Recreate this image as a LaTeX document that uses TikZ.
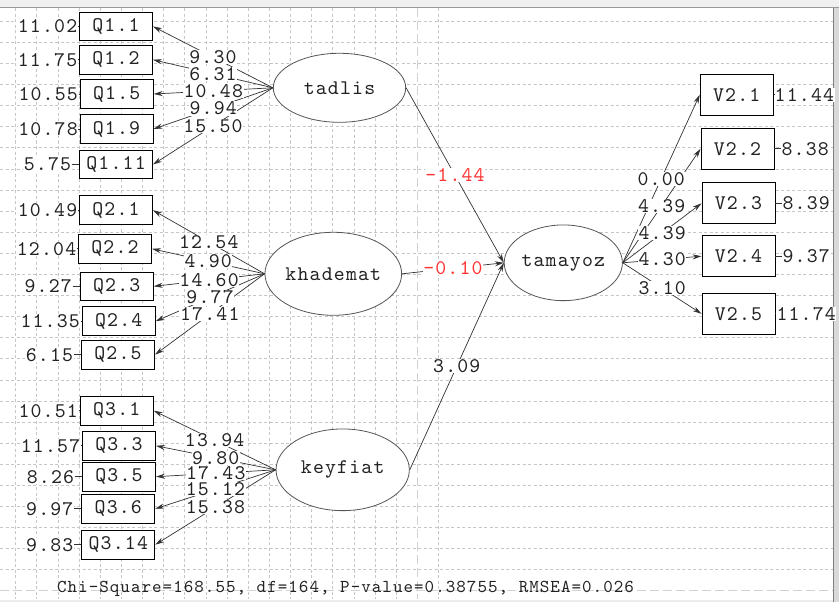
\documentclass[tikz,border=0pt]{standalone}
\usepackage{fontspec}
\newfontfamily\lisfont{lmmono10-regular.otf}[LetterSpace=5.7]
\usetikzlibrary{shapes.geometric,arrows.meta}
\definecolor{gridc}{HTML}{C6C6C6}
\definecolor{gridm}{HTML}{D2D2D2}
\definecolor{txtc}{HTML}{222222}
\definecolor{linec}{HTML}{333333}
\definecolor{ellc}{HTML}{555555}
\definecolor{redc}{HTML}{FF3333}
\definecolor{chrome}{HTML}{F0F0F0}
\tikzset{
  lisf/.style={font=\lisfont\fontsize{20.8}{22}\selectfont},
  gridline/.style={draw=gridc, line width=0.6pt, dash pattern=on 3pt off 2.5pt},
  gridmajor/.style={draw=gridm, line width=1.2pt, dash pattern=on 9pt off 4pt},
  qbox/.style={lisf, text=txtc, draw=black, fill=white, line width=0.9pt, rectangle, inner sep=0pt, minimum width=73pt, minimum height=28.7pt},
  vbox/.style={qbox, minimum height=40.8pt},
  latent/.style={lisf, text=txtc, draw=ellc, fill=white, line width=0.8pt, ellipse, inner sep=0pt},
  arr/.style={draw=linec, line width=0.7pt, -{Stealth[length=9pt,width=5pt]}},
  stub/.style={draw=linec, line width=0.7pt},
  lab/.style={lisf, text=txtc, fill=white, inner sep=0.6pt},
  redlab/.style={lab, text=redc},
  foot/.style={font=\lisfont\fontsize{18.15}{20}\selectfont, text=txtc}
}
\begin{document}
\begin{tikzpicture}[x=1pt,y=-1pt]
\useasboundingbox (0,0) rectangle (839,602);
% background and window chrome
\fill[white] (0,0) rectangle (839,602);
\fill[chrome] (0,0) rectangle (839,7);
\draw[color=gray!80, line width=1.3pt] (0,7.8) -- (839,7.8);
% grid
\foreach \k in {0,...,18,20,...,38} {
  \pgfmathsetmacro\xx{15.5+21.15*\k}
  \draw[gridline] (\xx,8.5) -- (\xx,599);
}
\draw[gridmajor] (417.35,8.5) -- (417.35,599);
\foreach \k in {1,...,27} {
  \pgfmathsetmacro\yy{21.1*\k}
  \draw[gridline] (0,\yy) -- (833,\yy);
}
\draw[gridmajor] (0,590.8) -- (833,590.8);
% right and bottom window edges
\fill[gray!30] (834,8.5) rectangle (839,602);
\draw[color=gray, line width=1.5pt] (833.5,8.5) -- (833.5,602);
\fill[gray!15] (0,599.5) rectangle (833,602);

% indicator boxes (left)
\node[qbox] (q11) at (116,26.4) {Q1.1};
\node[qbox] (q12) at (116,59.7) {Q1.2};
\node[qbox] (q15) at (116.7,94) {Q1.5};
\node[qbox] (q19) at (116.5,129) {Q1.9};
\node[qbox] (q111) at (116,164.5) {Q1.11};
\node[qbox] (q21) at (116,210.2) {Q2.1};
\node[qbox] (q22) at (115,248.8) {Q2.2};
\node[qbox] (q23) at (116.7,286.3) {Q2.3};
\node[qbox] (q24) at (118.7,321.2) {Q2.4};
\node[qbox] (q25) at (118,354.7) {Q2.5};
\node[qbox] (q31) at (116.7,410.7) {Q3.1};
\node[qbox] (q33) at (119,445.8) {Q3.3};
\node[qbox] (q35) at (119,476.7) {Q3.5};
\node[qbox] (q36) at (118.3,508.8) {Q3.6};
\node[qbox] (q314) at (118.3,544.7) {Q3.14};
% indicator boxes (right)
\node[vbox] (v21) at (736.7,94.7) {V2.1};
\node[vbox] (v22) at (737.5,148.8) {V2.2};
\node[vbox] (v23) at (738.5,203.3) {V2.3};
\node[vbox] (v24) at (738.5,256.2) {V2.4};
\node[vbox] (v25) at (738.5,313.8) {V2.5};
% latent variables
\node[latent, minimum width=132.4pt, minimum height=69pt] (tadlis) at (339.5,87.8) {tadlis};
\node[latent, minimum width=136.7pt, minimum height=83pt] (khademat) at (333.3,273.8) {khademat};
\node[latent, minimum width=133.3pt, minimum height=81.7pt] (keyfiat) at (342.7,469.8) {keyfiat};
\node[latent, minimum width=116.7pt, minimum height=75.7pt] (tamayoz) at (563.3,262.8) {tamayoz};

% loadings
\foreach \b in {q11,q12,q15,q19,q111} \draw[arr] (tadlis.west) -- (\b.east);
\foreach \b in {q21,q22,q23,q24,q25} \draw[arr] (khademat.west) -- (\b.east);
\foreach \b in {q31,q33,q35,q36,q314} \draw[arr] (keyfiat.west) -- (\b.east);
\foreach \b in {v21,v22,v23,v24,v25} \draw[arr] (tamayoz.east) -- (\b.west);
% structural paths
\draw[arr] (tadlis.east) -- (tamayoz.west);
\draw[arr] (khademat.east) -- (tamayoz.west);
\draw[arr] (keyfiat.east) -- (tamayoz.west);

% path labels
\path (tadlis.west) -- (q11.east) node[lab, midway] {9.30};
\path (tadlis.west) -- (q12.east) node[lab, midway] {6.31};
\path (tadlis.west) -- (q15.east) node[lab, midway] {10.48};
\path (tadlis.west) -- (q19.east) node[lab, midway] {9.94};
\path (tadlis.west) -- (q111.east) node[lab, midway] {15.50};
\path (khademat.west) -- (q21.east) node[lab, midway] {12.54};
\path (khademat.west) -- (q22.east) node[lab, midway] {4.90};
\path (khademat.west) -- (q23.east) node[lab, midway] {14.60};
\path (khademat.west) -- (q24.east) node[lab, midway] {9.77};
\path (khademat.west) -- (q25.east) node[lab, midway] {17.41};
\path (keyfiat.west) -- (q31.east) node[lab, midway] {13.94};
\path (keyfiat.west) -- (q33.east) node[lab, midway] {9.80};
\path (keyfiat.west) -- (q35.east) node[lab, midway] {17.43};
\path (keyfiat.west) -- (q36.east) node[lab, midway] {15.12};
\path (keyfiat.west) -- (q314.east) node[lab, midway] {15.38};
\path (tamayoz.east) -- (v21.west) node[lab, midway] {0.00};
\path (tamayoz.east) -- (v22.west) node[lab, midway] {4.39};
\path (tamayoz.east) -- (v23.west) node[lab, midway] {4.39};
\path (tamayoz.east) -- (v24.west) node[lab, midway] {4.30};
\path (tamayoz.east) -- (v25.west) node[lab, midway] {3.10};
\path (tadlis.east) -- (tamayoz.west) node[redlab, midway] {-1.44};
\path (khademat.east) -- (tamayoz.west) node[redlab, midway] {-0.10};
\path (keyfiat.east) -- (tamayoz.west) node[lab, midway] {3.09};

% error variances
\node[lab] (e11) at (47.5,26.4) {11.02};
\node[lab] (e12) at (47.5,59.7) {11.75};
\node[lab] (e15) at (48.2,94) {10.55};
\node[lab] (e19) at (48,129) {10.78};
\node[lab] (e111) at (47.5,164.5) {5.75};
\node[lab] (e21) at (47.5,210.2) {10.49};
\node[lab] (e22) at (46.5,248.8) {12.04};
\node[lab] (e23) at (48.2,286.3) {9.27};
\node[lab] (e24) at (50.2,321.2) {11.35};
\node[lab] (e25) at (49.5,354.7) {6.15};
\node[lab] (e31) at (48.2,410.7) {10.51};
\node[lab] (e33) at (50.5,445.8) {11.57};
\node[lab] (e35) at (50.5,476.7) {8.26};
\node[lab] (e36) at (49.8,508.8) {9.97};
\node[lab] (e314) at (49.8,544.7) {9.83};
\node[lab] (f21) at (804.4,94.7) {11.44};
\node[lab] (f22) at (805.2,148.8) {8.38};
\node[lab] (f23) at (806.2,203.3) {8.39};
\node[lab] (f24) at (806.2,256.2) {9.37};
\node[lab] (f25) at (806.2,313.8) {11.74};
\foreach \e/\b in {e11/q11,e12/q12,e15/q15,e19/q19,e111/q111,e21/q21,e22/q22,e23/q23,e24/q24,e25/q25,e31/q31,e33/q33,e35/q35,e36/q36,e314/q314}
  \draw[stub] (\e.east) -- (\b.west);
\foreach \e/\b in {f21/v21,f22/v22,f23/v23,f24/v24,f25/v25}
  \draw[stub] (\b.east) -- (\e.west);

% fit statistics
\node[foot] (fit) at (345.5,589.3) {Chi-Square=168.55, df=164, P-value=0.38755, RMSEA=0.026};
\end{tikzpicture}
\end{document}
